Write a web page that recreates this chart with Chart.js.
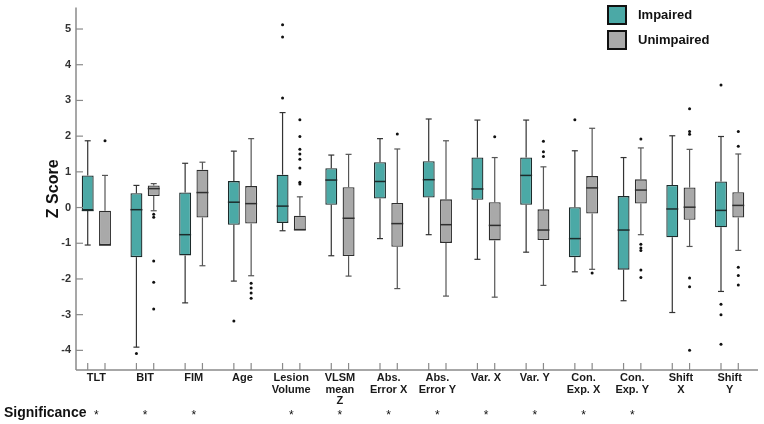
<!DOCTYPE html>
<html>
<head>
<meta charset="utf-8">
<script src="https://cdn.jsdelivr.net/npm/chart.js@4/dist/chart.umd.min.js"></script>
<style>
  html, body { margin: 0; padding: 0; background: #fff; }
</style>
</head>
<body>
<canvas id="boxChart" width="764" height="424"></canvas>
<script>
var categories = [["TLT"], ["BIT"], ["FIM"], ["Age"], ["Lesion", "Volume"], ["VLSM", "mean", "Z"],
    ["Abs.", "Error X"], ["Abs.", "Error Y"], ["Var. X"], ["Var. Y"], ["Con.", "Exp. X"], ["Con.", "Exp. Y"],
    ["Shift", "X"], ["Shift", "Y"]];
var significant = [true, true, true, false, true, true, true, true, true, true, true, true, false, false];
var yTicks = [-4, -3, -2, -1, 0, 1, 2, 3, 4, 5];

// impaired group
var impMin = [-1.05, -3.91, -2.67, -2.06, -0.65, -1.35, -0.87, -0.76, -1.45, -1.25, -1.80, -2.61, -2.94, -2.35];
var impQ1 = [-0.08, -1.39, -1.34, -0.48, -0.43, 0.08, 0.25, 0.28, 0.22, 0.08, -1.39, -1.74, -0.83, -0.55];
var impMed = [-0.08, -0.06, -0.76, 0.15, 0.04, 0.77, 0.73, 0.78, 0.52, 0.90, -0.87, -0.63, -0.04, -0.08];
var impQ3 = [0.90, 0.40, 0.42, 0.74, 0.92, 1.10, 1.27, 1.30, 1.40, 1.40, 0.01, 0.32, 0.63, 0.73];
var impMax = [1.87, 0.62, 1.24, 1.58, 2.66, 1.47, 1.93, 2.48, 2.45, 2.45, 1.59, 1.40, 2.01, 1.99];
var impOut = [[], [-4.09], [], [-3.18], [5.12, 4.78, 3.07], [], [], [], [], [], [2.46], [], [],
    [3.43, -2.71, -3.00, -3.83]];

// unimpaired group
var unMin = [-1.05, -0.09, -1.63, -1.91, -0.64, -1.92, -2.27, -2.48, -2.51, -2.18, -1.73, -0.76, -1.09, -1.20];
var unQ1 = [-1.05, 0.32, -0.28, -0.45, -0.64, -1.36, -1.10, -0.99, -0.92, -0.91, -0.17, 0.11, -0.34, -0.28];
var unMed = [-1.05, 0.53, 0.42, 0.11, -0.62, -0.30, -0.45, -0.48, -0.50, -0.63, 0.55, 0.49, 0.01, 0.06];
var unQ3 = [-0.09, 0.62, 1.06, 0.60, -0.23, 0.57, 0.13, 0.23, 0.15, -0.05, 0.88, 0.79, 0.56, 0.43];
var unMax = [0.90, 0.67, 1.27, 1.93, 0.30, 1.49, 1.64, 1.87, 1.40, 1.14, 2.22, 1.67, 1.63, 1.50];
var unOut = [[1.87], [-0.19, -0.27, -1.50, -2.09, -2.84], [], [-2.12, -2.25, -2.39, -2.54],
    [2.46, 1.99, 1.63, 1.50, 1.35, 1.11, 0.71, 0.66], [], [2.06], [], [1.98], [1.86, 1.56, 1.43], [-1.83],
    [1.92, -1.03, -1.13, -1.20, -1.75, -1.96], [2.77, 2.13, 2.05, -1.97, -2.22, -4.00],
    [2.13, 1.72, -1.67, -1.90, -2.17]];

var groups = [
    { label: "Impaired", min: impMin, q1: impQ1, med: impMed, q3: impQ3, max: impMax, out: impOut,
      fill: "#4ba9a6", stroke: "#1c2b2b", whisker: "#333" },
    { label: "Unimpaired", min: unMin, q1: unQ1, med: unMed, q3: unQ3, max: unMax, out: unOut,
      fill: "#a9a9a9", stroke: "#2e2e2e", whisker: "#555" }
];

Chart.defaults.font.family = "Arial, 'Liberation Sans', sans-serif";

function line(ctx, x1, y1, x2, y2) {
    ctx.beginPath();
    ctx.moveTo(x1, y1);
    ctx.lineTo(x2, y2);
    ctx.stroke();
}

var boxExtras = {
    id: "boxExtras",
    beforeDatasetsDraw: function (chart) {
        var ctx = chart.ctx, y = chart.scales.y;
        ctx.save();
        groups.forEach(function (g, d) {
            chart.getDatasetMeta(d).data.forEach(function (bar, i) {
                ctx.strokeStyle = g.whisker;
                ctx.lineWidth = 1.2;
                if (g.max[i] - g.q3[i] > 0.01) {
                    line(ctx, bar.x, y.getPixelForValue(g.q3[i]), bar.x, y.getPixelForValue(g.max[i]));
                    line(ctx, bar.x - 3, y.getPixelForValue(g.max[i]), bar.x + 3, y.getPixelForValue(g.max[i]));
                }
                if (g.q1[i] - g.min[i] > 0.01) {
                    line(ctx, bar.x, y.getPixelForValue(g.q1[i]), bar.x, y.getPixelForValue(g.min[i]));
                    line(ctx, bar.x - 3, y.getPixelForValue(g.min[i]), bar.x + 3, y.getPixelForValue(g.min[i]));
                }
            });
        });
        ctx.restore();
    },
    afterDatasetsDraw: function (chart) {
        var ctx = chart.ctx, y = chart.scales.y;
        ctx.save();
        groups.forEach(function (g, d) {
            chart.getDatasetMeta(d).data.forEach(function (bar, i) {
                var half = bar.width / 2;
                ctx.strokeStyle = g.stroke;
                ctx.lineWidth = 1.5;
                var ym = y.getPixelForValue(g.med[i]);
                line(ctx, bar.x - half, ym, bar.x + half, ym);
                ctx.fillStyle = "#111";
                g.out[i].forEach(function (v) {
                    ctx.beginPath();
                    ctx.arc(bar.x, y.getPixelForValue(v), 1.5, 0, Math.PI * 2);
                    ctx.fill();
                });
            });
        });
        ctx.restore();
    },
    afterDraw: function (chart) {
        var ctx = chart.ctx, area = chart.chartArea, x = chart.scales.x, y = chart.scales.y;
        var ax = area.left + 4;
        ctx.save();
        // axis lines and inward ticks
        ctx.strokeStyle = "#8a8a8a";
        ctx.lineWidth = 1.5;
        line(ctx, ax, area.top, ax, area.bottom);
        line(ctx, ax, area.bottom, area.right + 4, area.bottom);
        ctx.lineWidth = 1.2;
        yTicks.forEach(function (v) {
            var py = y.getPixelForValue(v);
            line(ctx, ax, py, ax + 7, py);
        });
        groups.forEach(function (g, d) {
            chart.getDatasetMeta(d).data.forEach(function (bar) {
                line(ctx, bar.x, area.bottom, bar.x, area.bottom - 7);
            });
        });

        // legend
        ctx.textBaseline = "middle";
        groups.forEach(function (g, d) {
            var ly = 6 + d * 25;
            ctx.fillStyle = g.fill;
            ctx.fillRect(608, ly, 18, 18);
            ctx.strokeStyle = "#111";
            ctx.lineWidth = 2;
            ctx.strokeRect(608, ly, 18, 18);
            ctx.fillStyle = "#111";
            ctx.font = "bold 13px Arial, 'Liberation Sans', sans-serif";
            ctx.fillText(g.label, 638, ly + 9);
        });

        // significance row
        ctx.fillStyle = "#111";
        ctx.font = "bold 14px Arial, 'Liberation Sans', sans-serif";
        ctx.textAlign = "left";
        ctx.fillText("Significance", 4, 413);
        ctx.font = "12px Arial, 'Liberation Sans', sans-serif";
        ctx.textAlign = "center";
        significant.forEach(function (s, i) {
            if (s) ctx.fillText("*", x.getPixelForValue(i), 416);
        });
        ctx.restore();
    }
};

new Chart(document.getElementById("boxChart"), {
    type: "bar",
    data: {
        labels: categories,
        datasets: groups.map(function (g) {
            return {
                label: g.label,
                data: g.q1.map(function (q, i) { return [q, g.q3[i]]; }),
                backgroundColor: g.fill,
                borderColor: g.stroke,
                borderWidth: 1.3,
                borderSkipped: false,
                categoryPercentage: 0.71,
                barPercentage: 0.69
            };
        })
    },
    options: {
        responsive: false,
        animation: false,
        layout: { padding: { left: 44, top: 4, right: 10, bottom: 0 } },
        plugins: { legend: { display: false }, tooltip: { enabled: false } },
        scales: {
            x: {
                grid: { display: false, drawTicks: false },
                border: { display: false },
                ticks: { color: "#1a1a1a", font: { size: 11, weight: "bold", lineHeight: 1.06 }, padding: 2,
                    maxRotation: 0, autoSkip: false },
                afterFit: function (s) { s.height = 54; }
            },
            y: {
                min: -4.55,
                max: 5.6,
                afterBuildTicks: function (s) { s.ticks = yTicks.map(function (v) { return { value: v }; }); },
                grid: { display: false, drawTicks: false },
                border: { display: false },
                ticks: { color: "#333", font: { size: 11, weight: "bold" }, padding: 1 },
                title: { display: true, text: "Z Score", color: "#111", font: { size: 16, weight: "bold" },
                    padding: { top: 0, bottom: 0 } },
                afterFit: function (s) { s.width = 28; }
            }
        }
    },
    plugins: [boxExtras]
});
</script>
</body>
</html>
